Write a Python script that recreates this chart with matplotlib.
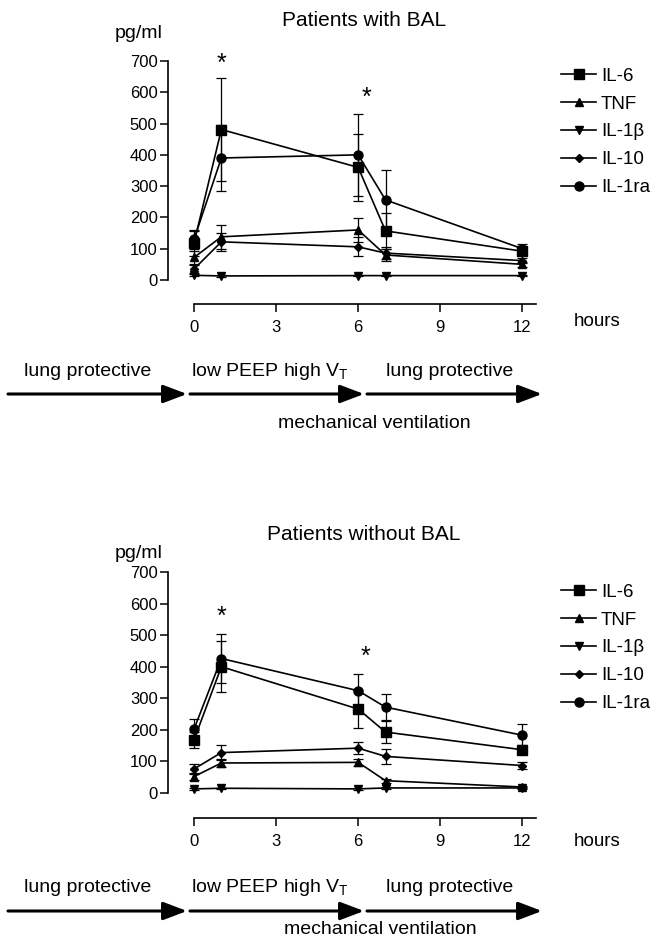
import matplotlib
matplotlib.use("Agg")
import matplotlib.pyplot as plt
from matplotlib.lines import Line2D

plt.rcParams['font.family'] = ['Liberation Sans', 'DejaVu Sans']
plt.rcParams['mathtext.fontset'] = 'custom'
plt.rcParams['mathtext.rm'] = 'Liberation Sans'

# ---------------- data ----------------
hours = [0, 1, 6, 7, 12]
series_names = ["IL-6", "TNF", "IL-1β", "IL-10", "IL-1ra"]
markers = ['s', '^', 'v', 'D', 'o']
msizes = [6.5, 6, 6, 4.5, 6.5]

# Patients with BAL
bal_il6 = [118, 481, 360, 157, 92]
bal_il6_err = [40, 165, 108, 58, 12]
bal_tnf = [72, 138, 160, 80, 50]
bal_tnf_err = [20, 38, 37, 20, 8]
bal_il1b = [15, 13, 14, 14, 14]
bal_il1b_err = [3, 2, 2, 2, 2]
bal_il10 = [35, 122, 106, 86, 62]
bal_il10_err = [12, 28, 30, 18, 8]
bal_il1ra = [130, 390, 400, 256, 100]
bal_il1ra_err = [30, 105, 130, 96, 15]

# Patients without BAL
nobal_il6 = [168, 400, 266, 193, 137]
nobal_il6_err = [26, 80, 61, 35, 15]
nobal_tnf = [52, 95, 97, 39, 19]
nobal_tnf_err = [10, 12, 12, 6, 4]
nobal_il1b = [13, 15, 13, 16, 16]
nobal_il1b_err = [2, 2, 2, 2, 2]
nobal_il10 = [76, 128, 142, 116, 87]
nobal_il10_err = [15, 24, 18, 23, 12]
nobal_il1ra = [202, 426, 324, 272, 183]
nobal_il1ra_err = [31, 79, 53, 42, 36]

panel_titles = ["Patients with BAL", "Patients without BAL"]
yticks = [0, 100, 200, 300, 400, 500, 600, 700]
xticks = [0, 3, 6, 9, 12]
# star annotations (hour, value)
bal_stars = [(1, 690), (6.3, 583)]
nobal_stars = [(1, 557), (6.25, 431)]

W, H = 656, 943
fig = plt.figure(figsize=(W / 100, H / 100), dpi=100)

ov = fig.add_axes([0, 0, 1, 1])
ov.set_xlim(0, W)
ov.set_ylim(H, 0)
ov.axis('off')

def px_axes(x0, y0, x1, y1):
    return [x0 / W, 1 - y1 / H, (x1 - x0) / W, (y1 - y0) / H]

panels = [
    dict(rect=px_axes(194, 61, 536, 280), bottom_out=24,
         data=[(bal_il6, bal_il6_err), (bal_tnf, bal_tnf_err), (bal_il1b, bal_il1b_err),
               (bal_il10, bal_il10_err), (bal_il1ra, bal_il1ra_err)],
         stars=bal_stars, title_y=20, pg_y=33, hours_y=322, legend_y=64,
         arrow_y=394, text_y=371, mech_y=424, mech_x=374),
    dict(rect=px_axes(194, 572, 536, 793), bottom_out=25,
         data=[(nobal_il6, nobal_il6_err), (nobal_tnf, nobal_tnf_err), (nobal_il1b, nobal_il1b_err),
               (nobal_il10, nobal_il10_err), (nobal_il1ra, nobal_il1ra_err)],
         stars=nobal_stars, title_y=535, pg_y=553, hours_y=842, legend_y=580,
         arrow_y=911, text_y=887, mech_y=929, mech_x=380),
]

for i, p in enumerate(panels):
    ax = fig.add_axes(p['rect'])
    ax.patch.set_visible(False)
    ax.set_xlim(0, 12.5)
    ax.set_ylim(0, 700)
    for (vals, err), m, ms in zip(p['data'], markers, msizes):
        ax.errorbar(hours, vals, yerr=err, color='black', marker=m, markersize=ms,
                    linewidth=1.2, elinewidth=0.9, capsize=3.5, capthick=0.9,
                    clip_on=False)
    ax.spines['top'].set_visible(False)
    ax.spines['right'].set_visible(False)
    ax.spines['left'].set_position(('outward', 26 * 0.72))
    ax.spines['bottom'].set_position(('outward', p['bottom_out'] * 0.72))
    ax.spines['left'].set_linewidth(1.2)
    ax.spines['bottom'].set_linewidth(1.2)
    ax.set_yticks(yticks)
    ax.set_xticks(xticks)
    ax.tick_params(axis='both', direction='out', length=5.5, width=1.1,
                   labelsize=12, color='black')
    ax.tick_params(axis='x', pad=6)
    ax.tick_params(axis='y', pad=2)
    for (sx, sy) in p['stars']:
        ax.text(sx, sy, "*", ha='center', va='center', fontsize=18, clip_on=False)

    # legend
    handles = [Line2D([0], [0], color='black', marker=m, markersize=ms, linewidth=1.2)
               for m, ms in zip(markers, msizes)]
    fig.legend(handles, series_names, loc='upper left',
               bbox_to_anchor=(557 / W, 1 - p['legend_y'] / H),
               frameon=False, fontsize=13.5, handlelength=1.9, handletextpad=0.25,
               labelspacing=0.57, borderpad=0.2, borderaxespad=0)

    # texts
    ov.text(364, p['title_y'], panel_titles[i], ha='center', va='center', fontsize=15)
    ov.text(139, p['pg_y'], "pg/ml", ha='center', va='center', fontsize=14)
    ov.text(597, p['hours_y'], "hours", ha='center', va='center', fontsize=13.5)

    # arrows
    ay = p['arrow_y']
    for (xa, xb) in [(8, 187), (190, 364), (367, 542)]:
        ov.annotate("", xy=(xb, ay), xytext=(xa, ay),
                    arrowprops=dict(arrowstyle='-|>,head_length=1.45,head_width=0.55',
                                    color='black', lw=2.2, shrinkA=0, shrinkB=0))
    ty = p['text_y']
    ov.text(88, ty, "lung protective", ha='center', va='center', fontsize=14)
    ov.text(270, ty, r"low PEEP high V$_{\rm T}$", ha='center', va='center', fontsize=14)
    ov.text(450, ty, "lung protective", ha='center', va='center', fontsize=14)
    ov.text(p['mech_x'], p['mech_y'], "mechanical ventilation", ha='center', va='center',
            fontsize=14)

fig.savefig("out.png", dpi=100)
